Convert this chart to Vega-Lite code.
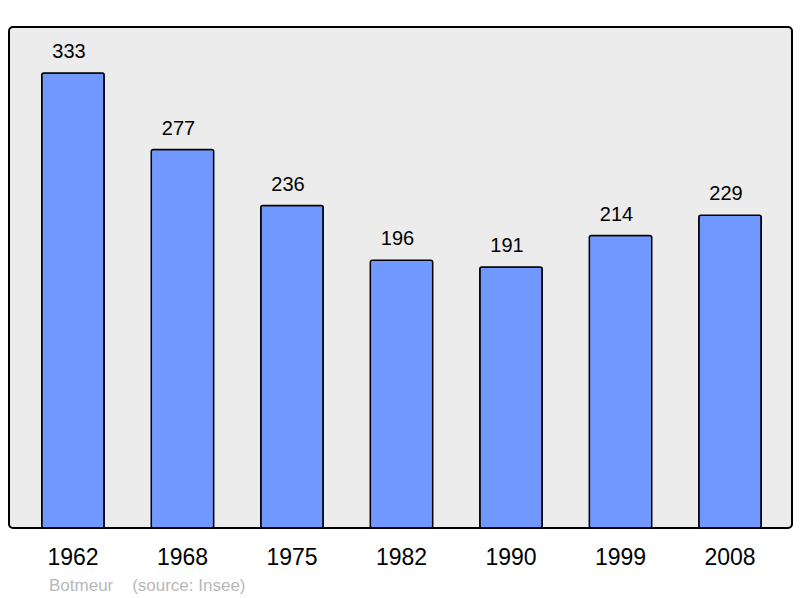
{
  "$schema": "https://vega.github.io/schema/vega-lite/v6.json",
  "width": 783,
  "height": 501,
  "autosize": "none",
  "padding": {"left": 9, "top": 27, "right": 8, "bottom": 70},
  "background": "white",
  "config": {
    "view": {"fill": "#ececec", "stroke": "#000000", "strokeWidth": 2, "cornerRadius": 4},
    "font": "Liberation Sans"
  },
  "data": {
    "values": [
      {"year": "1962", "pop": 333},
      {"year": "1968", "pop": 277},
      {"year": "1975", "pop": 236},
      {"year": "1982", "pop": 196},
      {"year": "1990", "pop": 191},
      {"year": "1999", "pop": 214},
      {"year": "2008", "pop": 229}
    ]
  },
  "title": {
    "text": "Botmeur\u00a0\u00a0\u00a0\u00a0(source: Insee)",
    "orient": "bottom",
    "anchor": "start",
    "dx": 40,
    "offset": 9,
    "fontSize": 17,
    "fontWeight": "normal",
    "color": "#b8b8b8",
    "font": "Liberation Sans"
  },
  "encoding": {
    "x": {
      "field": "year",
      "type": "nominal",
      "sort": null,
      "scale": {"paddingInner": 0.43, "paddingOuter": 0.29, "range": [1, 784]},
      "axis": {
        "title": null,
        "domain": false,
        "ticks": false,
        "labelAngle": 0,
        "labelFontSize": 23,
        "labelColor": "#000000",
        "labelPadding": 18,
        "labelFont": "Liberation Sans"
      }
    },
    "y": {
      "field": "pop",
      "type": "quantitative",
      "scale": {"domain": [0, 366.7], "nice": false, "zero": true},
      "axis": null
    }
  },
  "layer": [
    {
      "mark": {"type": "bar", "fill": "#7098ff", "stroke": "#000000", "strokeWidth": 1.5, "cornerRadius": 2}
    },
    {
      "mark": {"type": "text", "baseline": "bottom", "dy": -11, "dx": -4, "fontSize": 20, "color": "#000000", "font": "Liberation Sans"},
      "encoding": {"text": {"field": "pop", "type": "quantitative"}}
    }
  ]
}
